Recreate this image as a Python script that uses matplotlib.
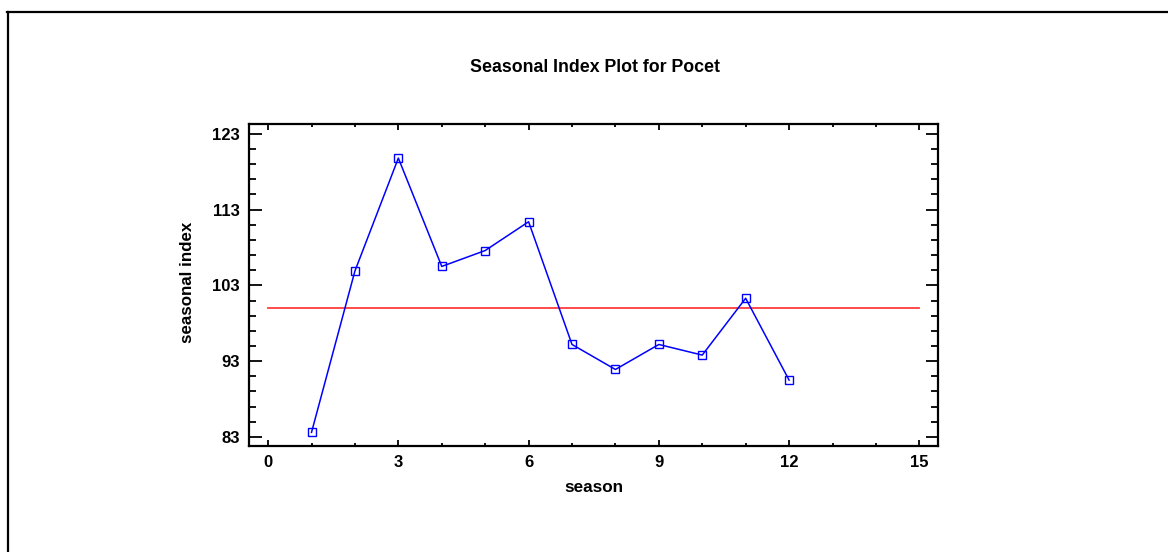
import matplotlib
matplotlib.use("Agg")
import matplotlib.pyplot as plt
from matplotlib.lines import Line2D
from matplotlib.ticker import MultipleLocator, FixedLocator

plt.rcParams['font.family'] = ['Liberation Sans', 'DejaVu Sans']

season = [1, 2, 3, 4, 5, 6, 7, 8, 9, 10, 11, 12]
seasonal_index = [83.6, 104.9, 119.8, 105.5, 107.6, 111.4, 95.2, 91.9, 95.2, 93.8, 101.3, 90.5]
baseline_x = [0, 15]
baseline_y = [100, 100]
x_ticks = [0, 3, 6, 9, 12, 15]
y_ticks = [83, 93, 103, 113, 123]

W, H = 1168, 552
fig = plt.figure(figsize=(W / 100, H / 100), dpi=100)
ax = fig.add_axes([249 / W, 1 - 446 / H, (938 - 249) / W, (446 - 124) / H])

ax.plot(baseline_x, baseline_y, color='#ff3c3c', lw=1.3, zorder=2)
ax.plot(season, seasonal_index, color='#0000ff', lw=1.1, marker='s',
        markersize=5.2, markerfacecolor='none', markeredgecolor='#0000ff',
        markeredgewidth=1.0, zorder=3)

ax.set_xlim(-0.44, 15.43)
ax.set_ylim(81.8, 124.3)
ax.xaxis.set_major_locator(FixedLocator(x_ticks))
ax.xaxis.set_minor_locator(MultipleLocator(1))
ax.yaxis.set_major_locator(FixedLocator(y_ticks))
ax.yaxis.set_minor_locator(FixedLocator([v for v in range(83, 125, 2) if v not in y_ticks]))

for s in ax.spines.values():
    s.set_linewidth(1.6)

ax.tick_params(axis='both', which='both', direction='in', width=1.3,
               top=True, right=True, labelsize=12, pad=6.5)
ax.tick_params(axis='x', which='major', length=4.5)
ax.tick_params(axis='x', which='minor', length=2.3)
ax.tick_params(axis='y', which='major', length=9)
ax.tick_params(axis='y', which='minor', length=5)
for lab in ax.get_xticklabels() + ax.get_yticklabels():
    lab.set_fontweight('bold')

ax.set_xlabel('season', fontsize=12.3, fontweight='bold')
ax.set_ylabel('seasonal index', fontsize=12.2, fontweight='bold')
ax.xaxis.label.set_va('center')
ax.yaxis.label.set_va('center')
ax.xaxis.set_label_coords((594 - 249) / 689, (446 - 488) / 322)
ax.yaxis.set_label_coords((187 - 249) / 689, (446 - 282.5) / 322)

fig.text(595 / W, 1 - 68 / H, 'Seasonal Index Plot for Pocet', ha='center',
         va='center', fontsize=12.8, fontweight='bold')

# frame lines along the top and left edges of the figure
fig.add_artist(Line2D([7.5 / W, 7.5 / W], [0, 1 - 12 / H], color='black', lw=1.6,
                      transform=fig.transFigure))
fig.add_artist(Line2D([7 / W, 1], [1 - 12 / H, 1 - 12 / H], color='black', lw=1.6,
                      transform=fig.transFigure))

fig.savefig('out.png', dpi=100)
